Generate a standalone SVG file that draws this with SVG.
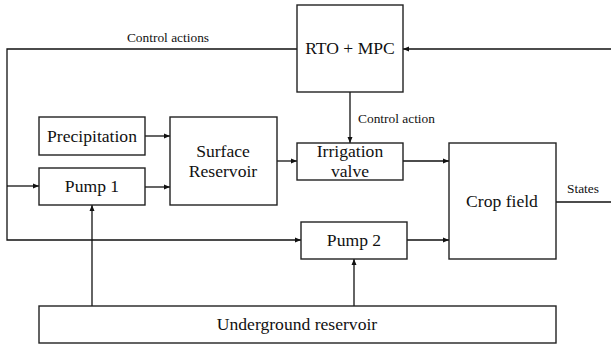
<svg xmlns="http://www.w3.org/2000/svg" width="611" height="345" viewBox="0 0 611 345">
<style>
.box{fill:#fff;stroke:#222;stroke-width:1.4}
.ln{fill:none;stroke:#111;stroke-width:1.3}
.t{font-family:"Liberation Serif","DejaVu Serif",serif;font-size:17.6px;fill:#111;text-anchor:middle}
.s{font-family:"Liberation Serif","DejaVu Serif",serif;font-size:13.4px;fill:#111}
</style>
<defs>
<marker id="ah" viewBox="0 0 6 6" refX="6" refY="3" markerWidth="6" markerHeight="6" markerUnits="userSpaceOnUse" orient="auto">
<path d="M0,0.5 L6,3 L0,5.5 z" fill="#111"/>
</marker>
</defs>
<rect width="611" height="345" fill="#fff"/>
<g id="connectors">
<path class="ln" d="M297,49 H7 V240 H301" marker-end="url(#ah)"/>
<path class="ln" d="M7,186 H39" marker-end="url(#ah)"/>
<path class="ln" d="M611,49 H403" marker-end="url(#ah)"/>
<path class="ln" d="M350,92 V143" marker-end="url(#ah)"/>
<path class="ln" d="M145,136 H170" marker-end="url(#ah)"/>
<path class="ln" d="M145,187 H170" marker-end="url(#ah)"/>
<path class="ln" d="M277,161 H297" marker-end="url(#ah)"/>
<path class="ln" d="M403,161 H449" marker-end="url(#ah)"/>
<path class="ln" d="M407,240 H449" marker-end="url(#ah)"/>
<path class="ln" d="M556,202 H611"/>
<path class="ln" d="M92,306 V205" marker-end="url(#ah)"/>
<path class="ln" d="M354,306 V259" marker-end="url(#ah)"/>
<text class="s" x="168" y="42" text-anchor="middle">Control actions</text>
<text class="s" x="358" y="123">Control action</text>
<text class="s" x="567" y="193">States</text>
</g>
<g id="rto">
<rect class="box" x="297" y="5" width="106" height="87"/>
<text class="t" x="350" y="54">RTO + MPC</text>
</g>
<g id="precipitation">
<rect class="box" x="39" y="117" width="106" height="38"/>
<text class="t" x="92" y="142">Precipitation</text>
</g>
<g id="surface">
<rect class="box" x="170" y="117" width="107" height="88"/>
<text class="t" x="223" y="157">Surface</text>
<text class="t" x="223" y="177">Reservoir</text>
</g>
<g id="pump1">
<rect class="box" x="39" y="168" width="106" height="37"/>
<text class="t" x="92" y="192">Pump 1</text>
</g>
<g id="irrigation">
<rect class="box" x="297" y="143" width="106" height="37"/>
<text class="t" x="350" y="157">Irrigation</text>
<text class="t" x="350" y="177">valve</text>
</g>
<g id="crop">
<rect class="box" x="449" y="143" width="107" height="116"/>
<text class="t" x="502" y="207">Crop field</text>
</g>
<g id="pump2">
<rect class="box" x="301" y="222" width="106" height="37"/>
<text class="t" x="354" y="246">Pump 2</text>
</g>
<g id="underground">
<rect class="box" x="39" y="306" width="517" height="37"/>
<text class="t" x="297" y="330">Underground reservoir</text>
</g>
</svg>
